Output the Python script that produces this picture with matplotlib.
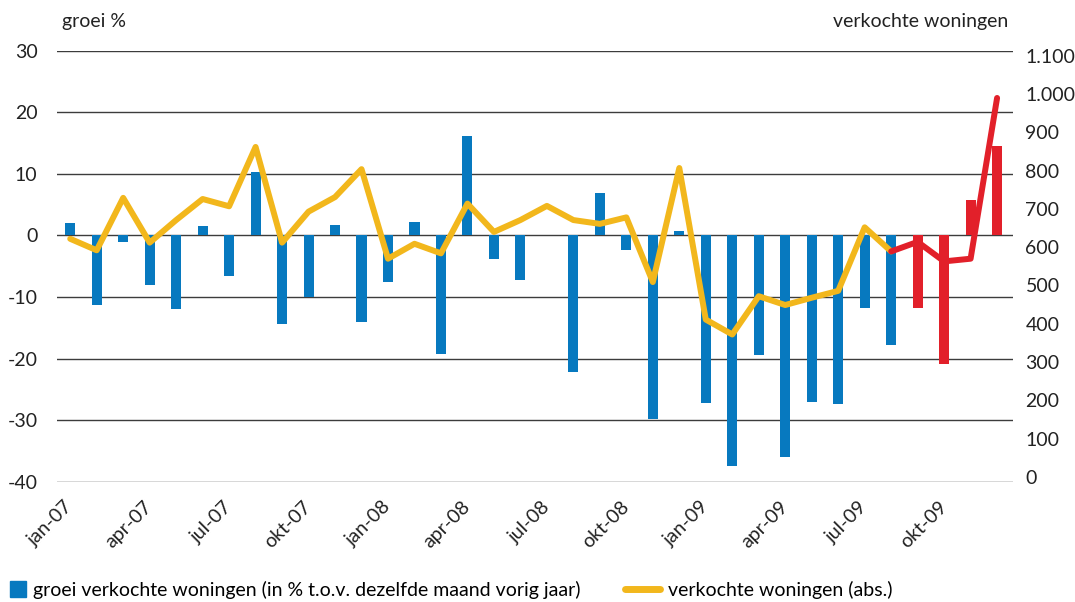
import numpy as np
import matplotlib
matplotlib.use('Agg')
import matplotlib.pyplot as plt
from matplotlib.lines import Line2D

plt.rcParams['font.family'] = ['Lato', 'DejaVu Sans']

# monthly data jan-07 .. dec-09
growth = [2.0, -11.3, -1.1, -8.1, -12.0, 1.6, -6.6, 10.3, -14.3, -10.0, 1.7, -14.1,
          -7.6, 2.2, -19.3, 16.2, -3.9, -7.3, 0.0, -22.2, 6.9, -2.3, -29.7, 0.8,
          -27.2, -37.4, -19.4, -36.0, -27.1, -27.4, -11.7, -17.7, -11.7, -20.8, 5.8, 14.5]
sold = [622, 592, 729, 612, 671, 726, 707, 862, 612, 693, 731, 804,
        570, 609, 584, 714, 640, 671, 708, 671, 661, 678, 509, 807,
        411, 372, 472, 449, 468, 486, 652, 589, 614, 563, 570, 990]
tick_labels = ['jan-07', 'apr-07', 'jul-07', 'okt-07', 'jan-08', 'apr-08',
               'jul-08', 'okt-08', 'jan-09', 'apr-09', 'jul-09', 'okt-09']
left_ticks = [30, 20, 10, 0, -10, -20, -30, -40]
right_ticks = [0, 100, 200, 300, 400, 500, 600, 700, 800, 900, 1000, 1100]
first_red_bar = 32
first_red_line = 31

blue = '#0779BF'
yellow = '#F2B71C'
red = '#E2202A'
grid = '#3c3c3c'
fs = 14

x = np.arange(len(growth))
bar_colors = [blue if i < first_red_bar else red for i in x]

fig = plt.figure(figsize=(10.75, 6.02), dpi=100)
ax = fig.add_axes([0.053, 0.1993, 0.8893, 0.7168])

for t in left_ticks:
    ax.axhline(t, color=grid, lw=1.0, zorder=0)
ax.bar(x, growth, width=0.38, color=bar_colors, zorder=2)
ax.set_xlim(-0.5, 35.6)
ax.set_ylim(-40, 30)
ax.set_yticks(left_ticks)
ax.set_yticklabels([str(t) for t in left_ticks])
ax.set_xticks(x[::3])
ax.set_xticklabels(tick_labels, rotation=45, ha='right', va='center',
                   rotation_mode='anchor')
ax.tick_params(axis='both', length=0, labelsize=fs, colors='#222222')
ax.tick_params(axis='y', pad=14)
ax.tick_params(axis='x', pad=16)
for s in ax.spines.values():
    s.set_visible(False)

ax2 = ax.twinx()
ax2.plot(x[:first_red_line + 1], sold[:first_red_line + 1], color=yellow, lw=4.3,
         solid_capstyle='round', solid_joinstyle='round', zorder=3)
ax2.plot(x[first_red_line:], sold[first_red_line:], color=red, lw=4.3,
         solid_capstyle='round', solid_joinstyle='round', zorder=4)
ax2.set_ylim(-13.5, 1114)
ax2.set_yticks(right_ticks)
ax2.set_yticklabels([f'{t:,}'.replace(',', '.') for t in right_ticks])
ax2.tick_params(axis='y', length=0, labelsize=fs, pad=9, colors='#222222')
for s in ax2.spines.values():
    s.set_visible(False)

fig.text(62 / 1075, 1 - 22 / 602, 'groei %', fontsize=fs, color='#222222',
         ha='left', va='center')
fig.text(1008 / 1075, 1 - 22 / 602, 'verkochte woningen', fontsize=fs,
         color='#222222', ha='right', va='center')

h1 = Line2D([], [], color=blue, marker='s', markersize=11, lw=0)
h2 = Line2D([], [], color=yellow, lw=5, solid_capstyle='round')
fig.legend([h1], ['groei verkochte woningen (in % t.o.v. dezelfde maand vorig jaar)'],
           loc='center left', bbox_to_anchor=(0.0, 1 - 590 / 602), frameon=False,
           fontsize=fs, handlelength=1.0, handletextpad=0.3, borderaxespad=0)
fig.legend([h2], ['verkochte woningen (abs.)'],
           loc='center left', bbox_to_anchor=(617 / 1075, 1 - 590 / 602), frameon=False,
           fontsize=fs, handlelength=1.8, handletextpad=0.4, borderaxespad=0)

fig.savefig('out.png', dpi=100)
